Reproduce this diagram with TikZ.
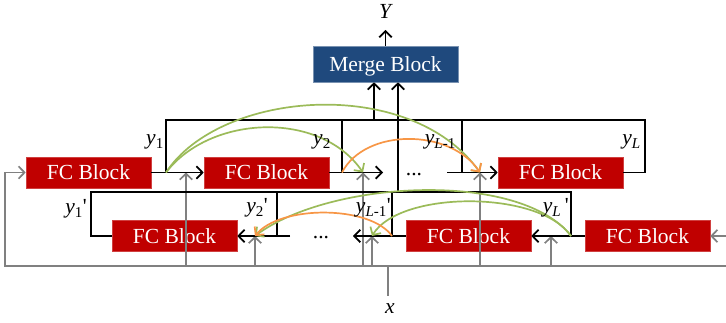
\documentclass[tikz,border=0pt]{standalone}
\usepackage{fontspec}
\setmainfont{Liberation Serif}
\usetikzlibrary{arrows.meta}

\definecolor{fcred}{RGB}{192,0,0}
\definecolor{mergeblue}{RGB}{31,73,125}
\definecolor{skipgreen}{RGB}{155,187,89}
\definecolor{skiporange}{RGB}{247,150,70}
\definecolor{feedgray}{RGB}{128,128,128}

\begin{document}
\begin{tikzpicture}[x=1pt,y=-1pt,
  font=\fontsize{21.5}{24}\selectfont,
  >={Straight Barb[length=6pt,width=12.5pt]},
  fcblock/.style={rectangle, fill=fcred, draw=fcred!75!white, line width=0.6pt,
    text=white, minimum width=125pt, minimum height=31pt, inner sep=0pt,
    text height=14.5pt, text depth=0pt},
  mergeblock/.style={rectangle, fill=mergeblue, draw=mergeblue!60!white, line width=0.6pt,
    text=white, minimum width=145pt, minimum height=36pt, inner sep=0pt,
    text height=14.5pt, text depth=0pt},
  wire/.style={line width=1.8pt, black},
  feed/.style={line width=1.7pt, feedgray},
  greenskip/.style={line width=1.7pt, skipgreen},
  orangeskip/.style={line width=1.7pt, skiporange},
  lab/.style={inner sep=0pt}
]
\useasboundingbox (0,0) rectangle (726,323);

% ---- blocks ----
\node[fcblock] (f1) at (88.5,172.5) {FC Block};
\node[fcblock] (f2) at (266.5,172.5) {FC Block};
\node[fcblock] (fL) at (560.5,172.5) {FC Block};
\node[fcblock] (g1) at (174.5,236) {FC Block};
\node[fcblock] (gK) at (468.5,236) {FC Block};
\node[fcblock] (gL) at (647.5,236) {FC Block};
\node[mergeblock] (mb) at (385.5,64) {Merge Block};

% ---- junction points, forward chain ----
\coordinate (y1j) at (166,172.5);
\coordinate (y2j) at (342,172.5);
\coordinate (yKj) at (462,172.5);
\coordinate (yLj) at (645,172.5);
\coordinate (t1) at (166,120);
\coordinate (t2) at (342,120);
\coordinate (tK) at (462,120);
\coordinate (tL) at (645,120);
\coordinate (a2) at (383,172.5);
\coordinate (a3) at (447,172.5);
\coordinate (m1) at (374,120);
\coordinate (m2) at (398,192);
\coordinate (yout) at (385.5,30);
\coordinate (in2) at (186,172.5);
\coordinate (in3) at (363,172.5);
\coordinate (inL) at (480,172.5);

% ---- junction points, backward chain ----
\coordinate (z1j) at (91,236);
\coordinate (z2j) at (277,236);
\coordinate (zKj) at (392,236);
\coordinate (zLj) at (571,236);
\coordinate (z1) at (91,192);
\coordinate (z2) at (277,192);
\coordinate (zK) at (392,192);
\coordinate (zL) at (571,192);
\coordinate (b1) at (290,236);
\coordinate (b2) at (353,236);
\coordinate (in1p) at (255,236);
\coordinate (inKm) at (372,236);
\coordinate (inKp) at (551,236);

% ---- input bus ----
\coordinate (lb) at (5,266);
\coordinate (lt) at (5,172.5);
\coordinate (rb) at (727,266);
\coordinate (rin) at (727,236);
\coordinate (xin) at (388,296);

% ---- input x distribution (gray) ----
\draw[feed,->] (rb) -- (lb) -- (lt) -- (f1.west);
\draw[feed,->] (rin) -- (gL.east);
\draw[feed] (xin) -- (xin |- lb);
\foreach \p in {in2,in3,inL,in1p,inKm,inKp}
  \draw[feed,->] (\p |- lb) -- (\p);

% ---- forward chain ----
\draw[wire,->] (f1.east) -- (f2.west);
\draw[wire,->] (f2.east) -- (a2);
\draw[wire,->] (a3) -- (fL.west);
\draw[wire] (y1j) -- (t1) -- (tL) -- (yLj) -- (fL.east);
\draw[wire] (y2j) -- (t2);
\draw[wire] (yKj) -- (tK);

% ---- backward chain ----
\draw[wire,->] (gL.west) -- (gK.east);
\draw[wire,->] (gK.west) -- (b2);
\draw[wire,->] (b1) -- (g1.east);
\draw[wire] (g1.west) -- (z1j) -- (z1) -- (zL) -- (zLj);
\draw[wire] (z2j) -- (z2);
\draw[wire] (zKj) -- (zK);

% ---- merge ----
\draw[wire,->] (m1) -- (m1 |- mb.south);
\draw[wire,->] (m2) -- (m2 |- mb.south);
\draw[wire,->] (mb.north) -- (yout);

% ---- skip connections ----
\draw[greenskip,->] (y1j) .. controls (210,115) and (320,110) .. (in3);
\draw[greenskip,->] (y1j) .. controls (220,90) and (410,75) .. (inL);
\draw[orangeskip,->] (y2j) .. controls (365,128) and (450,128) .. (inL);
\draw[greenskip,->] (zLj) .. controls (540,190) and (400,190) .. (inKm);
\draw[greenskip,->] (zLj) .. controls (520,170) and (330,180) .. (in1p);
\draw[orangeskip,->] (zKj) .. controls (370,205) and (280,205) .. (in1p);

% ---- labels ----
\node[lab] (Ylab) at (386,11) {\textit{Y}};
\node[lab] (xlab) at (390,309) {\textit{x}};
\node[lab, anchor=base] (d1) at (414,176) {...};
\node[lab, anchor=base] (d2) at (321,239) {...};

\node[lab, anchor=base east] (l1) at (164,145) {\textit{y}\textsubscript{1}};
\node[lab, anchor=base east] (l2) at (331,145) {\textit{y}\textsubscript{2}};
\node[lab, anchor=base east] (lK) at (456,145) {\textit{y}\textsubscript{\textit{L}-1}};
\node[lab, anchor=base east] (lL) at (641,145) {\textit{y}\textsubscript{\textit{L}}};

\node[lab, anchor=base east] (p1) at (87,214) {\textit{y}\textsubscript{1}\textquotesingle};
\node[lab, anchor=base east] (p2) at (268,213) {\textit{y}\textsubscript{2}\textquotesingle};
\node[lab, anchor=base east] (pK) at (391,213) {\textit{y}\textsubscript{\textit{L}-1}\textquotesingle};
\node[lab, anchor=base east] (pL) at (569,213) {\textit{y}\textsubscript{\textit{L}}\,\textquotesingle};
\end{tikzpicture}
\end{document}
